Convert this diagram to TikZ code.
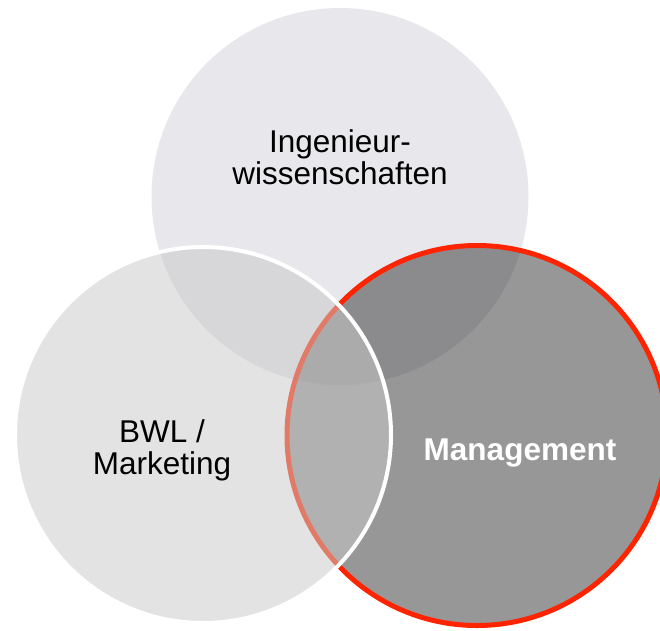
\documentclass[tikz,border=0pt]{standalone}
\usepackage{fontspec}
\setmainfont{Liberation Sans}
\definecolor{cinzaclaro}{RGB}{232,232,236}
\definecolor{cinzaesq}{RGB}{201,201,201}
\definecolor{cinzaesc}{RGB}{38,38,38}
\definecolor{vermelho}{RGB}{255,36,0}

\begin{document}
\begin{tikzpicture}[x=1pt, y=-1pt,
    rotulo/.style={align=center, inner sep=0pt, font=\fontsize{31.5}{32}\selectfont}]

    \useasboundingbox (0,0) rectangle (660,630);
    \clip (0,0) rectangle (660,630);

    % circulo de cima
    \fill[cinzaclaro] (340,196.5) circle[radius=188.5];

    % circulo da direita
    \fill[cinzaesc, fill opacity=0.48] (477,435.5) circle[radius=190];
    \draw[vermelho, line width=5] (477,435.5) circle[radius=190];

    % circulo da esquerda
    \fill[cinzaesq, fill opacity=0.52] (203,435) circle[radius=188];
    \draw[white, line width=4] (203,435) circle[radius=188];

    % rotulos
    \node[rotulo] (ing) at (340,157.7) {Ingenieur-\\wissenschaften};
    \node[rotulo] (bwl) at (162,450.8) {BWL /\\Marketing};
    \node[rotulo, white, font=\fontsize{31.5}{32}\selectfont\bfseries, anchor=base] (mgmt) at (520,460) {Management};

\end{tikzpicture}
\end{document}
